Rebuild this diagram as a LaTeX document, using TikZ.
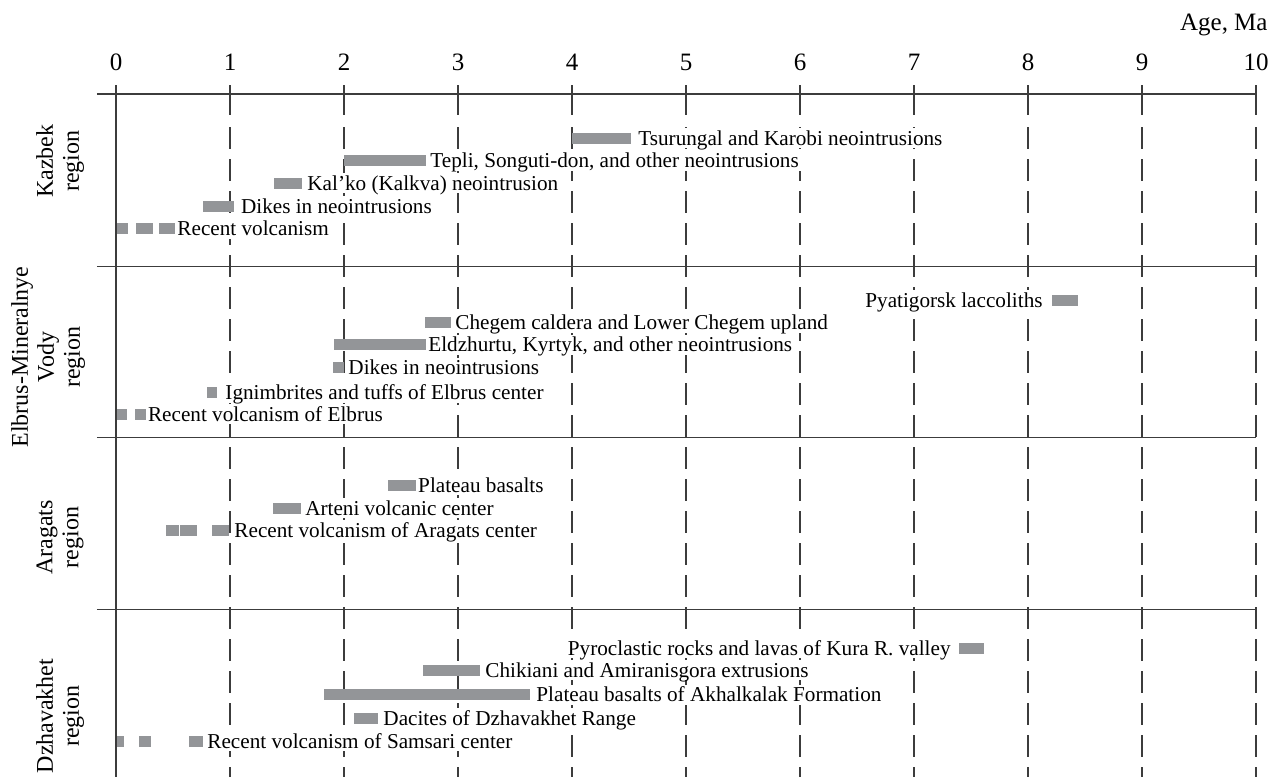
\documentclass[tikz,border=0pt]{standalone}
\usepackage{fontspec}
\setmainfont{Liberation Serif}
\usepackage{xcolor}
\definecolor{bargray}{RGB}{147,149,152}
\definecolor{linegray}{RGB}{60,60,60}

\begin{document}
\begin{tikzpicture}[x=57pt, y=-0.5pt,
  grid line/.style={linegray, line width=0.8pt},
  age bar/.style={fill=bargray},
  rock label/.style={font=\fontsize{10.6}{12}\selectfont, fill=white,
    inner xsep=1pt, inner ysep=0.5pt, text height=8pt, text depth=1pt, anchor=west},
  region label/.style={font=\fontsize{12}{13}\selectfont, align=center, rotate=90},
  tick label/.style={font=\fontsize{12.5}{14}\selectfont}]
\useasboundingbox (-1.01754,0) rectangle (10.11404,777);
% Axis and grid
\foreach \t in {0,...,10}
    \node[tick label] (t\t) at (\t,62) {\t};
\node[tick label, anchor=east, inner sep=0pt] (age) at (10.105,25) {Age, Ma};
\draw[grid line] (0,85) -- (0,777);
\foreach \t in {1,...,10} {
    \draw[grid line] (\t,85) -- (\t,115);
    \draw[grid line, dash pattern=on 10.75pt off 5.25pt] (\t,127) -- (\t,777);
}
\foreach \y in {94,266.5,437.5,609.5}
    \draw[grid line] (-0.167,\y) -- (10,\y);
% Region names
\node[region label] (kazbek) at (-0.491,161) {Kazbek\\region};
\node[region label] (elbrus) at (-0.596,357) {Elbrus-Mineralnye\\Vody\\region};
\node[region label] (aragats) at (-0.491,537.5) {Aragats\\region};
\node[region label] (dzhav) at (-0.491,716) {Dzhavakhet\\region};
% Kazbek region (5 rows)
\fill[age bar] (4.0,132.5) rectangle (4.518,143.5);
\node[rock label] (kz1) at (4.561,138) {Tsurungal and Karobi neointrusions};
\fill[age bar] (2.0,155) rectangle (2.719,166);
\node[rock label] (kz2) at (2.737,160.5) {Tepli, Songuti-don, and other neointrusions};
\fill[age bar] (1.386,177.5) rectangle (1.629,188.5);
\node[rock label] (kz3) at (1.658,183) {Kal’ko (Kalkva) neointrusion};
\fill[age bar] (0.763,200.5) rectangle (1.038,211.5);
\node[rock label] (kz4) at (1.076,206) {Dikes in neointrusions};
\foreach \a/\b in {0.009/0.105, 0.175/0.322, 0.38/0.518}
    \fill[age bar] (\a,223) rectangle (\b,234);
\node[rock label] (kz5) at (0.518,228.5) {Recent volcanism};
% Elbrus-Mineralnye Vody region (6 rows)
\fill[age bar] (8.21,294.5) rectangle (8.44,305.5);
\node[rock label, anchor=east] (el1) at (8.149,300) {Pyatigorsk laccoliths};
\fill[age bar] (2.711,317) rectangle (2.936,328);
\node[rock label] (el2) at (2.956,322.5) {Chegem caldera and Lower Chegem upland};
\fill[age bar] (1.912,339) rectangle (2.719,350);
\node[rock label] (el3) at (2.719,344.5) {Eldzhurtu, Kyrtyk, and other neointrusions};
\fill[age bar] (1.90,362) rectangle (2.0,373);
\node[rock label] (el4) at (2.018,367.5) {Dikes in neointrusions};
\fill[age bar] (0.795,387) rectangle (0.889,398);
\node[rock label] (el5) at (0.939,392.5) {Ignimbrites and tuffs of Elbrus center};
\foreach \a/\b in {0.006/0.094, 0.167/0.26}
    \fill[age bar] (\a,408.5) rectangle (\b,419.5);
\node[rock label] (el6) at (0.26,414) {Recent volcanism of Elbrus};
% Aragats region (3 rows)
\fill[age bar] (2.39,479.5) rectangle (2.63,490.5);
\node[rock label] (ar1) at (2.63,485) {Plateau basalts};
\fill[age bar] (1.38,502.5) rectangle (1.62,513.5);
\node[rock label] (ar2) at (1.639,508) {Arteni volcanic center};
\foreach \a/\b in {0.44/0.55, 0.563/0.71, 0.84/0.99}
    \fill[age bar] (\a,524.5) rectangle (\b,535.5);
\node[rock label] (ar3) at (1.018,530) {Recent volcanism of Aragats center};
% Dzhavakhet region (5 rows)
\fill[age bar] (7.395,642.5) rectangle (7.614,653.5);
\node[rock label, anchor=east] (dz1) at (7.342,648) {Pyroclastic rocks and lavas of Kura R. valley};
\fill[age bar] (2.69,664.5) rectangle (3.193,675.5);
\node[rock label] (dz2) at (3.219,670) {Chikiani and Amiranisgora extrusions};
\fill[age bar] (1.825,689) rectangle (3.632,700);
\node[rock label] (dz3) at (3.667,694.5) {Plateau basalts of Akhalkalak Formation};
\fill[age bar] (2.088,712.5) rectangle (2.301,723.5);
\node[rock label] (dz4) at (2.325,718) {Dacites of Dzhavakhet Range};
\foreach \a/\b in {0.006/0.07, 0.204/0.304, 0.643/0.76}
    \fill[age bar] (\a,735.5) rectangle (\b,746.5);
\node[rock label] (dz5) at (0.781,741) {Recent volcanism of Samsari center};
\end{tikzpicture}
\end{document}
